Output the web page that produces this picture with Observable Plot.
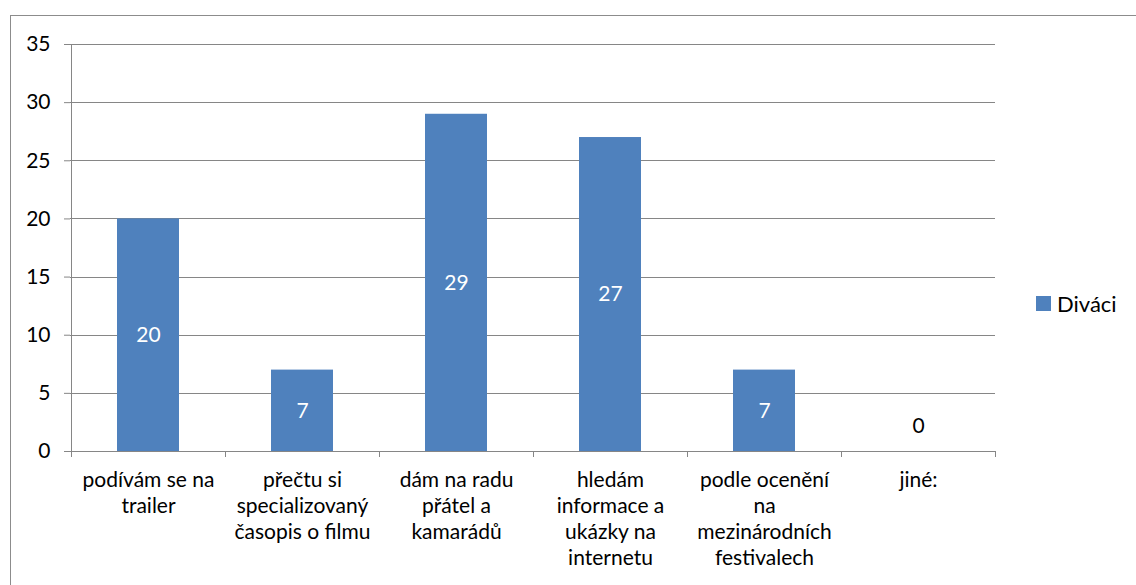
<!DOCTYPE html>
<html><head><meta charset="utf-8">
<script src="https://cdn.jsdelivr.net/npm/d3@7"></script>
<script src="https://cdn.jsdelivr.net/npm/@observablehq/plot@0.6"></script>
<style>
body{margin:0;background:#fff;font-family:Lato,sans-serif;}
#wrap{position:relative;width:1136px;height:585px;overflow:hidden;}
#frame{position:absolute;left:10px;top:15px;width:1140px;height:620px;border:1px solid #8c8c8c;box-sizing:border-box;pointer-events:none;}
#chart{position:absolute;left:0;top:0;}
#legend{position:absolute;left:1036px;top:290px;font:22px Lato,sans-serif;display:flex;align-items:center;color:#000;}
#legend .sw{width:15px;height:15px;background:#4F81BD;display:inline-block;margin-right:6px;}
</style></head>
<body>
<div id="wrap"><div id="chart"></div><div id="frame"></div>
<div id="legend"><span class="sw"></span><span id="lname"></span></div></div>
<script>
const categories = ["podívám se na trailer","přečtu si specializovaný časopis o filmu","dám na radu přátel a kamarádů","hledám informace a ukázky na internetu","podle ocenění na mezinárodních festivalech","jiné:"];
const categoryLines = ["podívám se na\ntrailer","přečtu si\nspecializovaný\nčasopis o filmu","dám na radu\npřátel a\nkamarádů","hledám\ninformace a\nukázky na\ninternetu","podle ocenění\nna\nmezinárodních\nfestivalech","jiné:"];
const values = [20, 7, 29, 27, 7, 0];
const yTicks = [0, 5, 10, 15, 20, 25, 30, 35];
const seriesName = "Diváci";

const data = categories.map((c, i) => ({c, v: values[i]}));
const gridColor = "#868686";

function categoryBoundaries(index, scales) {
  const x = scales.x, y = scales.y;
  const step = x(categories[1]) - x(categories[0]);
  const y0 = y(0);
  const g = d3.create("svg:g").attr("stroke", gridColor).attr("stroke-width", 1).attr("shape-rendering", "crispEdges");
  const xs = categories.map(c => x(c)).concat([x(categories[categories.length - 1]) + step]);
  xs.forEach(px => g.append("line").attr("x1", px).attr("x2", px).attr("y1", y0).attr("y2", y0 + 6));
  g.append("line").attr("x1", xs[0]).attr("x2", xs[0]).attr("y1", y(yTicks[yTicks.length - 1])).attr("y2", y0);
  return g.node();
}

const chart = Plot.plot({
  width: 1136, height: 585,
  marginLeft: 70, marginRight: 141, marginTop: 44, marginBottom: 134,
  style: {fontFamily: "Lato, sans-serif", fontSize: "21px", color: "#000", background: "transparent"},
  x: {domain: categories, padding: 0, label: null},
  y: {domain: [0, 35], label: null},
  marks: [
    Plot.ruleY(yTicks, {stroke: gridColor, strokeWidth: 1, shapeRendering: "crispEdges"}),
    Plot.axisY({ticks: yTicks, tickSize: 6, tickPadding: 14, stroke: gridColor, fill: "#000", fontSize: 21, label: null}),
    Plot.axisX({tickSize: 0, tickPadding: 17, tickFormat: c => categoryLines[categories.indexOf(c)], lineHeight: 1.24, fontSize: 21, fill: "#000", label: null}),
    Plot.barY(data, {x: "c", y: "v", fill: "#4F81BD", insetLeft: 46, insetRight: 46}),
    categoryBoundaries,
    Plot.text(data.filter(d => d.v > 0), {x: "c", y: d => d.v / 2, text: d => String(d.v), fill: "white", fontSize: 21}),
    Plot.text(data.filter(d => d.v === 0), {x: "c", y: "v", text: d => String(d.v), dy: -25, fill: "black", fontSize: 21})
  ]
});
document.getElementById("chart").append(chart);
document.getElementById("lname").textContent = seriesName;
</script>
</body></html>
